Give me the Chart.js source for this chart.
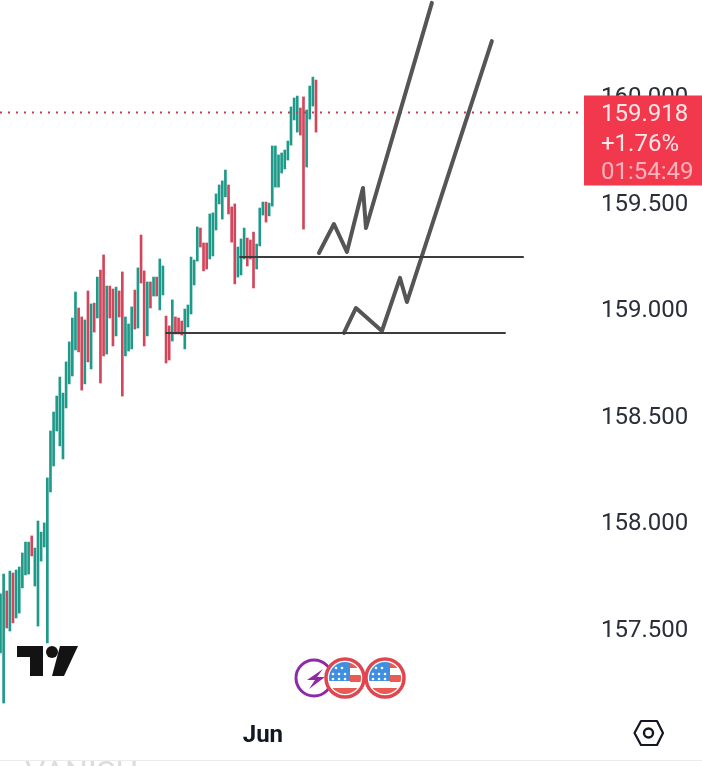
<!DOCTYPE html>
<html>
<head>
<meta charset="utf-8">
<title>Chart</title>
<script src="https://cdn.jsdelivr.net/npm/chart.js@4"></script>
<style>
    html, body { margin: 0; padding: 0; background: #fff; overflow: hidden; }
    #wrap { position: relative; width: 702px; height: 766px; font-family: Roboto, sans-serif; }
    #chart { position: absolute; left: 0; top: 0; }
    .overlay { position: absolute; left: 0; top: 0; pointer-events: none; }
    #footer { position: absolute; left: 0; top: 760px; width: 702px; height: 6px; overflow: hidden; border-top: 1px solid #ececec; box-sizing: border-box; }
    #footer span { position: absolute; left: 25px; top: -5px; font-size: 32px; line-height: 32px; color: #dcdcdc; }
</style>
</head>
<body>
<div id="wrap">
    <canvas id="chart" width="702" height="766"></canvas>
    <svg class="overlay" width="702" height="766" viewBox="0 0 702 766">
        <defs>
            <clipPath id="flagClip"><circle cx="0" cy="0" r="16"></circle></clipPath>
            <g id="flag">
                <circle r="19" fill="#fff" stroke="#df4650" stroke-width="3.5"></circle>
                <g clip-path="url(#flagClip)">
                    <rect x="5" y="-17" width="13" height="7" fill="#ea5a52"></rect>
                    <rect x="5" y="-3" width="13" height="7" fill="#ea5a52"></rect>
                    <rect x="-17" y="10" width="34" height="7" fill="#ea5a52"></rect>
                    <rect x="-17" y="-16" width="22" height="19" fill="#3f8fe0"></rect>
                    <g fill="#fff">
                        <circle cx="-9" cy="-10" r="1.3"></circle><circle cx="-3" cy="-10" r="1.3"></circle>
                        <circle cx="-12" cy="-4" r="1.3"></circle><circle cx="-6" cy="-4" r="1.3"></circle><circle cx="0" cy="-4" r="1.3"></circle>
                        <circle cx="-12" cy="1" r="1.3"></circle><circle cx="-6" cy="1" r="1.3"></circle><circle cx="0" cy="1" r="1.3"></circle>
                    </g>
                </g>
            </g>
        </defs>
        <!-- logo -->
        <path d="M17 646H43V676H30V657H17Z" fill="#131313"></path>
        <circle cx="52" cy="652" r="6" fill="#131313"></circle>
        <path d="M60 646H78L64 676H52Z" fill="#131313"></path>
        <!-- event icons -->
        <circle cx="314" cy="678" r="18" fill="#fff" stroke="#8e2aa8" stroke-width="3"></circle>
        <path d="M323 669L307 680H315L309 689L325 677H317Z" fill="#8e2aa8"></path>
        <use href="#flag" x="345" y="678"></use>
        <use href="#flag" x="385" y="678"></use>
        <!-- settings icon -->
        <path d="M634.5 733L641 721H657L663 733L657 745H641Z" fill="none" stroke="#131722" stroke-width="2.2" stroke-linejoin="round"></path>
        <circle cx="648.5" cy="733" r="4.5" fill="none" stroke="#131722" stroke-width="2.4"></circle>
    </svg>
    <div id="footer"><span>VANISH</span></div>
</div>
<script>
// candles, left to right
const candleHigh = [
    157.660, 157.753, 157.674, 157.767, 157.758, 157.772, 157.786, 157.852, 157.903, 157.903,
    157.932, 157.875, 158.002, 157.950, 157.993, 158.204, 158.424, 158.513, 158.588, 158.677,
    158.602, 158.748, 158.842, 158.954, 159.076, 159.001, 158.959, 158.945, 159.081, 159.020,
    159.024, 159.146, 159.179, 159.250, 159.104, 159.104, 159.090, 159.099, 159.081, 159.170,
    158.959, 158.926, 159.006, 159.085, 159.189, 159.343, 159.175, 159.123, 159.123, 159.146,
    159.146, 159.231, 159.198, 158.963, 158.917, 159.039, 158.959, 158.954, 158.940, 158.996,
    159.015, 159.240, 159.226, 159.381, 159.376, 159.306, 159.306, 159.442, 159.447, 159.536,
    159.578, 159.597, 159.648, 159.578, 159.475, 159.489, 159.287, 159.325, 159.376, 159.329,
    159.320, 159.357, 159.301, 159.470, 159.498, 159.498, 159.493, 159.761, 159.761, 159.719,
    159.728, 159.742, 159.784, 159.944, 159.986, 159.995, 159.939, 159.991, 159.930, 160.042,
    160.084, 160.070
];
const candleLow = [
    157.383, 157.148, 157.500, 157.486, 157.524, 157.547, 157.570, 157.688, 157.749, 157.753,
    157.838, 157.697, 157.509, 157.814, 157.880, 157.430, 158.138, 158.260, 158.424, 158.354,
    158.293, 158.532, 158.645, 158.682, 158.804, 158.795, 158.616, 158.645, 158.748, 158.715,
    158.888, 158.954, 158.649, 158.776, 158.785, 158.954, 158.823, 158.870, 158.959, 158.588,
    158.776, 158.799, 158.809, 158.902, 158.907, 159.118, 158.823, 158.870, 159.001, 159.057,
    159.057, 158.992, 159.062, 158.743, 158.757, 158.846, 158.879, 158.879, 158.874, 158.809,
    158.912, 158.973, 159.109, 159.221, 159.287, 159.175, 159.184, 159.231, 159.245, 159.367,
    159.489, 159.418, 159.522, 159.442, 159.310, 159.114, 159.146, 159.156, 159.231, 159.198,
    159.231, 159.095, 159.184, 159.292, 159.437, 159.404, 159.433, 159.479, 159.568, 159.568,
    159.634, 159.653, 159.695, 159.765, 159.883, 159.826, 159.812, 159.371, 159.662, 159.887,
    159.948, 159.826
];
// 1 = up (green), 0 = down (red)
const candleUp = [
    1, 1, 0, 1, 0, 1, 1, 1, 1, 1,
    0, 1, 1, 1, 1, 1, 1, 1, 1, 1,
    1, 1, 1, 1, 1, 0, 0, 1, 0, 1,
    0, 1, 0, 0, 1, 0, 0, 1, 0, 0,
    1, 1, 1, 0, 1, 0, 0, 1, 0, 1,
    0, 1, 1, 0, 0, 1, 0, 0, 0, 1,
    1, 1, 1, 1, 0, 0, 0, 1, 1, 1,
    1, 1, 1, 0, 0, 0, 1, 1, 1, 0,
    0, 0, 1, 1, 1, 0, 1, 1, 1, 1,
    1, 1, 1, 1, 1, 1, 0, 0, 1, 1,
    1, 0
];

// hand drawn lines on top of the chart: bar position and price
const arrowUpperX = [101.95, 106.75, 110.9, 116.04, 117.0, 138.1];
const arrowUpperY = [159.259, 159.395, 159.264, 159.564, 159.376, 160.432];
const arrowLowerX = [109.95, 113.8, 122.1, 127.9, 130.1, 157.3];
const arrowLowerY = [158.884, 159.001, 158.893, 159.142, 159.029, 160.253];
const levelUpperX = [76.7, 167.3];
const levelUpperY = [159.240, 159.240];
const levelLowerX = [53, 161.5];
const levelLowerY = [158.884, 158.884];

// axis
const priceTicks = [157.5, 158, 158.5, 159, 159.5, 160];
const monthIndex = 84;
const monthLabel = 'Jun';

// price tag
const lastPrice = 159.918;
const tagLines = ['159.918', '+1.76%', '01:54:49'];

const GREEN = '#1f9a8a';
const RED = '#d2455b';
const LINE_GRAY = '#555555';
const LEVEL_GRAY = '#3c3c3c';
const X_MIN = -0.16;
const X_MAX = 186.8;
const FONT = 'Roboto, sans-serif';

function toPoints(xs, ys) {
    return xs.map((x, i) => ({ x: x, y: ys[i] }));
}

function lineDataset(xs, ys, color, width) {
    return {
        type: 'line',
        data: toPoints(xs, ys),
        borderColor: color,
        borderWidth: width,
        borderCapStyle: 'round',
        borderJoinStyle: 'round',
        pointRadius: 0,
        tension: 0,
        order: 1
    };
}

// red box on the price axis, drawn over the tick labels
const priceTagPlugin = {
    id: 'priceTag',
    afterDraw(chart) {
        const ctx = chart.ctx;
        const y = chart.scales.y.getPixelForValue(lastPrice);
        ctx.save();
        ctx.fillStyle = '#f1384d';
        ctx.fillRect(584, y - 17, 118, 90);
        ctx.font = '24px ' + FONT;
        ctx.textBaseline = 'middle';
        ctx.textAlign = 'left';
        ctx.fillStyle = '#ffe6e9';
        ctx.fillText(tagLines[0], 601, y + 3);
        ctx.fillText(tagLines[1], 601, y + 33);
        ctx.fillStyle = '#ffb3bc';
        ctx.fillText(tagLines[2], 601, y + 61);
        ctx.restore();
    }
};

new Chart(document.getElementById('chart'), {
    data: {
        datasets: [
            {
                type: 'bar',
                data: candleHigh.map((h, i) => ({ x: i, y: [candleLow[i], h] })),
                backgroundColor: candleUp.map(u => (u ? GREEN : RED)),
                barThickness: 2,
                order: 3
            },
            Object.assign(lineDataset([X_MIN, X_MAX], [lastPrice, lastPrice], '#c43d50', 2), {
                borderDash: [2, 6],
                borderCapStyle: 'butt',
                order: 2
            }),
            lineDataset(levelUpperX, levelUpperY, LEVEL_GRAY, 2),
            lineDataset(levelLowerX, levelLowerY, LEVEL_GRAY, 2),
            lineDataset(arrowUpperX, arrowUpperY, LINE_GRAY, 4),
            lineDataset(arrowLowerX, arrowLowerY, LINE_GRAY, 4)
        ]
    },
    options: {
        responsive: false,
        animation: false,
        events: [],
        layout: { padding: 0 },
        plugins: { legend: { display: false }, tooltip: { enabled: false } },
        scales: {
            x: {
                type: 'linear',
                offset: false,
                min: X_MIN,
                max: X_MAX,
                grid: { display: false, drawTicks: false },
                border: { display: false },
                afterBuildTicks(scale) {
                    scale.ticks = [{ value: monthIndex }];
                },
                afterFit(scale) {
                    scale.height = 54;
                    scale.paddingLeft = 0;
                    scale.paddingRight = 0;
                },
                ticks: {
                    autoSkip: false,
                    maxRotation: 0,
                    padding: 10,
                    color: '#131722',
                    font: { family: FONT, size: 24, weight: 'bold' },
                    callback: () => monthLabel
                }
            },
            y: {
                position: 'right',
                min: 157.106,
                max: 160.4456,
                grid: { display: false, drawTicks: false },
                border: { display: false },
                afterBuildTicks(scale) {
                    scale.ticks = priceTicks.map(v => ({ value: v }));
                },
                afterFit(scale) {
                    scale.width = 118;
                    scale.paddingTop = 0;
                    scale.paddingBottom = 0;
                },
                ticks: {
                    padding: 17,
                    labelOffset: 3,
                    color: '#2a2e39',
                    font: { family: FONT, size: 24 },
                    callback: v => v.toFixed(3)
                }
            }
        }
    },
    plugins: [priceTagPlugin]
});
</script>
</body>
</html>
